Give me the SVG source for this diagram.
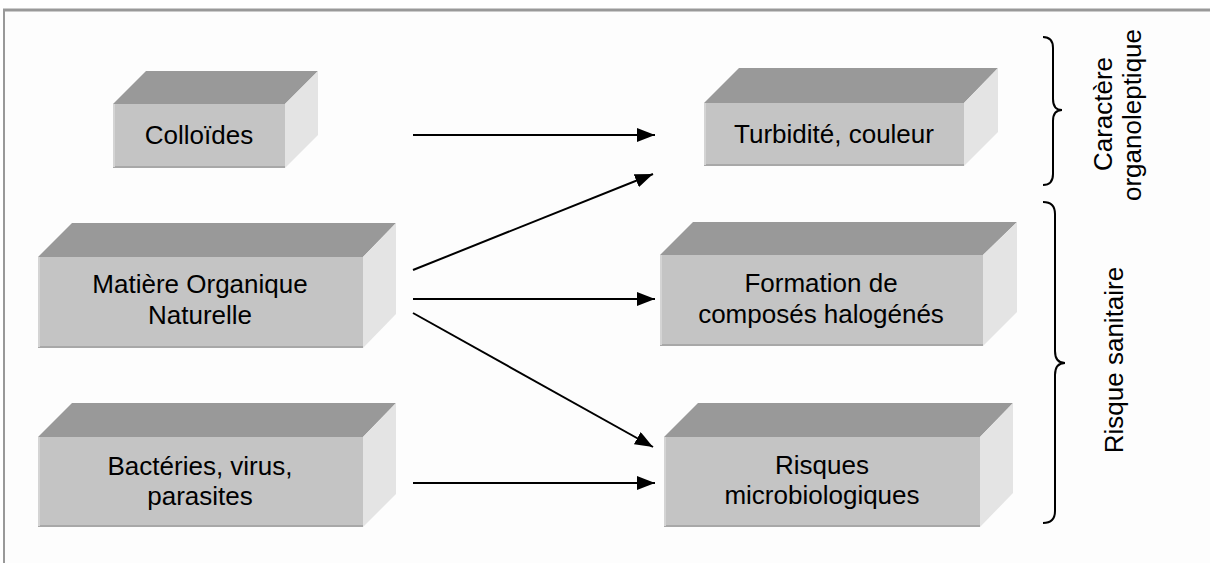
<svg xmlns="http://www.w3.org/2000/svg" width="1210" height="563" viewBox="0 0 1210 563">
<style>
.top{fill:#999999}
.front{fill:#c4c4c4}
.side{fill:#e4e4e4}
.edge{stroke:#a8a8a8;stroke-width:2;fill:none}
.hl{stroke:#d4d4d4;stroke-width:2;fill:none}
.t{font-family:"Liberation Sans",Arial,sans-serif;font-size:26px;fill:#000;text-anchor:middle}
.conn{stroke:#000;stroke-width:2;fill:none;marker-end:url(#ah)}
.brace{stroke:#000;stroke-width:2;fill:none}
</style>
<defs>
<marker id="ah" viewBox="0 0 18 14" refX="18" refY="7" markerWidth="18" markerHeight="14" markerUnits="userSpaceOnUse" orient="auto">
<path d="M0,0 L18,7 L0,14 Z" fill="#000"/>
</marker>
</defs>
<rect x="0" y="0" width="1210" height="563" fill="#ffffff"/>
<rect x="4" y="10" width="1206" height="553" fill="#fdfdfd"/>
<line x1="3" y1="10" x2="1210" y2="10" stroke="#999999" stroke-width="3"/>
<line x1="4" y1="9" x2="4" y2="563" stroke="#999999" stroke-width="2"/>

<g id="colloides">
<polygon class="top" points="113,104 146,71 318,71 285,104"/>
<polygon class="side" points="285,104 318,71 318,135 285,168"/>
<rect class="front" x="113" y="104" width="172" height="64"/>
<line class="edge" x1="113" y1="167" x2="285" y2="167"/>
<line class="hl" x1="114" y1="104" x2="114" y2="167"/>
<text class="t" x="199" y="144">Colloïdes</text>
</g>

<g id="matiere">
<polygon class="top" points="38,257 72,223 396,223 363,257"/>
<polygon class="side" points="363,257 396,223 396,314 363,348"/>
<rect class="front" x="38" y="257" width="325" height="91"/>
<line class="edge" x1="38" y1="347" x2="363" y2="347"/>
<line class="hl" x1="39" y1="257" x2="39" y2="347"/>
<text class="t" x="200" y="293">Matière Organique</text>
<text class="t" x="200" y="324">Naturelle</text>
</g>

<g id="bacteries">
<polygon class="top" points="38,437 72,403 396,403 363,437"/>
<polygon class="side" points="363,437 396,403 396,494 363,527"/>
<rect class="front" x="38" y="437" width="325" height="90"/>
<line class="edge" x1="38" y1="526" x2="363" y2="526"/>
<line class="hl" x1="39" y1="437" x2="39" y2="526"/>
<text class="t" x="200" y="475">Bactéries, virus,</text>
<text class="t" x="200" y="505">parasites</text>
</g>

<g id="turbidite">
<polygon class="top" points="704,103 739,68 998,68 964,103"/>
<polygon class="side" points="964,103 998,68 998,132 964,166"/>
<rect class="front" x="704" y="103" width="260" height="63"/>
<line class="edge" x1="704" y1="165" x2="964" y2="165"/>
<line class="hl" x1="705" y1="103" x2="705" y2="165"/>
<text class="t" x="834" y="143">Turbidité, couleur</text>
</g>

<g id="formation">
<polygon class="top" points="660,255 693,222 1017,222 983,255"/>
<polygon class="side" points="983,255 1017,222 1017,312 983,346"/>
<rect class="front" x="660" y="255" width="323" height="91"/>
<line class="edge" x1="660" y1="345" x2="983" y2="345"/>
<line class="hl" x1="661" y1="255" x2="661" y2="345"/>
<text class="t" x="821" y="292">Formation de</text>
<text class="t" x="821" y="323">composés halogénés</text>
</g>

<g id="risques">
<polygon class="top" points="664,437 698,403 1013,403 980,437"/>
<polygon class="side" points="980,437 1013,403 1013,493 980,527"/>
<rect class="front" x="664" y="437" width="316" height="90"/>
<line class="edge" x1="664" y1="526" x2="980" y2="526"/>
<line class="hl" x1="665" y1="437" x2="665" y2="526"/>
<text class="t" x="822" y="474">Risques</text>
<text class="t" x="822" y="504">microbiologiques</text>
</g>

<g id="connectors">
<line class="conn" x1="413" y1="135" x2="655" y2="135"/>
<line class="conn" x1="413" y1="270" x2="653" y2="174"/>
<line class="conn" x1="413" y1="299" x2="655" y2="299"/>
<line class="conn" x1="413" y1="313" x2="653" y2="447"/>
<line class="conn" x1="413" y1="483" x2="655" y2="483"/>
</g>

<g id="brace-organoleptique">
<path class="brace" d="M1043,37 Q1053,37 1053,48 L1053,99 Q1053,110 1062,110 Q1053,110 1053,121 L1053,174 Q1053,185 1043,185"/>
<text class="t" transform="translate(1112,114) rotate(-90)">Caractère</text>
<text class="t" transform="translate(1141,115) rotate(-90)">organoleptique</text>
</g>

<g id="brace-sanitaire">
<path class="brace" d="M1043,202 Q1055,202 1055,214 L1055,351 Q1055,363 1065,363 Q1055,363 1055,375 L1055,511 Q1055,523 1043,523"/>
<text class="t" transform="translate(1123,360) rotate(-90)">Risque sanitaire</text>
</g>
</svg>
